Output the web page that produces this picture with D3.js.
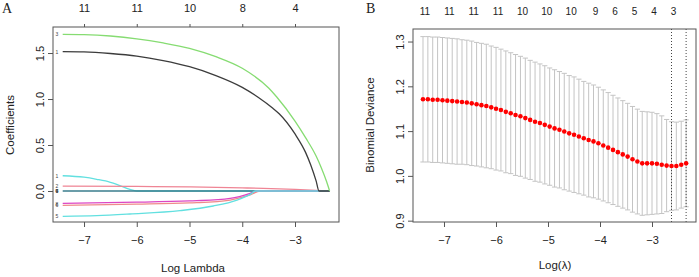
<!DOCTYPE html>
<html>
<head>
<meta charset="utf-8">
<script src="https://cdn.jsdelivr.net/npm/d3@7"></script>
<style>
  body { margin: 0; background: #fff; }
  text { font-family: "Liberation Sans", Arial, sans-serif; fill: #222; }
  .panel { font-family: "Liberation Serif", "Times New Roman", serif; font-size: 14px; }
</style>
</head>
<body>
<div id="chart"></div>
<script>
// ---- panel A: coefficient paths ----
var ticksA = [-7, -6, -5, -4, -3]
var dfTopA = ["11", "11", "10", "8", "4"]
var yTicksA = [0.0, 0.5, 1.0, 1.5]

var greenLam = [-7.404, -7.0, -6.5, -6.0, -5.5, -5.0, -4.5, -4.0, -3.5, -3.35, -3.0, -2.8, -2.6, -2.5, -2.4, -2.344]
var greenVal = [1.703, 1.700, 1.685, 1.655, 1.610, 1.551, 1.460, 1.334, 1.120, 1.025, 0.76, 0.58, 0.38, 0.25, 0.10, 0]
var blackLam = [-7.404, -7.0, -6.5, -6.0, -5.5, -5.0, -4.5, -4.0, -3.7, -3.42, -3.3, -3.0, -2.8, -2.7, -2.6, -2.545, -2.344]
var blackVal = [1.515, 1.512, 1.495, 1.467, 1.418, 1.351, 1.255, 1.127, 1.02, 0.90, 0.84, 0.62, 0.42, 0.28, 0.11, 0, 0]
var cyan1Lam = [-7.404, -7.0, -6.76, -6.5, -6.38, -6.13, -6.0, -2.344]
var cyan1Val = [0.166, 0.150, 0.127, 0.095, 0.073, 0.018, 0, 0]
var pinkLam = [-7.404, -6.0, -5.0, -4.0, -3.6, -3.0, -2.5, -2.344]
var pinkVal = [0.054, 0.050, 0.044, 0.034, 0.029, 0.017, 0.004, 0]
var zeroLam = [-7.404, -2.344]
var zeroVal = [0, 0]
var magLam = [-7.404, -6.0, -5.0, -4.86, -4.23, -3.85, -3.73, -2.344]
var magVal = [-0.134, -0.122, -0.108, -0.105, -0.080, -0.025, 0, 0]
var salmonLam = [-7.404, -6.0, -5.0, -4.86, -4.23, -3.85, -3.66, -2.344]
var salmonVal = [-0.156, -0.143, -0.130, -0.127, -0.098, -0.043, 0, 0]
var cyan5Lam = [-7.404, -6.76, -6.13, -5.18, -4.55, -4.1, -3.85, -3.75, -2.344]
var cyan5Val = [-0.275, -0.268, -0.250, -0.214, -0.163, -0.098, -0.036, 0, 0]

// variable numbers printed at the left end of the paths
var pathLabels = ["3", "1", "1", "2", "4", "6", "7", "9", "8", "6", "5"]
var pathLabelY = [1.703, 1.515, 0.166, 0.054, 0, 0, 0, 0, -0.138, -0.150, -0.275]

// ---- panel B: cross-validation curve ----
var logLam = [-7.404, -7.310, -7.217, -7.123, -7.029, -6.936, -6.842, -6.748, -6.654, -6.561,
  -6.467, -6.373, -6.280, -6.186, -6.092, -5.999, -5.905, -5.811, -5.717, -5.624,
  -5.530, -5.436, -5.343, -5.249, -5.155, -5.062, -4.968, -4.874, -4.780, -4.687,
  -4.593, -4.499, -4.406, -4.312, -4.218, -4.125, -4.031, -3.937, -3.843, -3.750,
  -3.656, -3.562, -3.469, -3.375, -3.281, -3.188, -3.094, -3.000, -2.906, -2.813,
  -2.719, -2.625, -2.532, -2.438, -2.344]
var cvMean = [1.171, 1.171, 1.170, 1.170, 1.169, 1.168, 1.167, 1.166, 1.165, 1.164,
  1.162, 1.160, 1.158, 1.156, 1.153, 1.150, 1.147, 1.143, 1.140, 1.136,
  1.133, 1.129, 1.125, 1.121, 1.118, 1.114, 1.110, 1.106, 1.103, 1.099,
  1.095, 1.092, 1.088, 1.084, 1.080, 1.077, 1.073, 1.068, 1.063, 1.058,
  1.053, 1.048, 1.043, 1.037, 1.032, 1.028, 1.028, 1.028, 1.027, 1.025,
  1.023, 1.022, 1.022, 1.025, 1.028]
var cvSd = [0.140, 0.140, 0.140, 0.140, 0.140, 0.140, 0.140, 0.140, 0.139, 0.139,
  0.139, 0.138, 0.138, 0.138, 0.137, 0.137, 0.136, 0.136, 0.135, 0.135,
  0.134, 0.134, 0.133, 0.133, 0.132, 0.132, 0.131, 0.131, 0.130, 0.130,
  0.129, 0.129, 0.128, 0.127, 0.127, 0.126, 0.125, 0.124, 0.123, 0.122,
  0.121, 0.120, 0.119, 0.118, 0.117, 0.116, 0.115, 0.114, 0.112, 0.109,
  0.103, 0.099, 0.098, 0.097, 0.097]
var ticksB = [-7, -6, -5, -4, -3]
var yTicksB = [0.9, 1.0, 1.1, 1.2, 1.3]
var dfTopIdx = [0, 5, 10, 15, 20, 25, 30, 35, 39, 43, 47, 51]
var dfTopB = ["11", "11", "11", "11", "10", "10", "10", "9", "6", "5", "4", "3"]
var lambdaMinIdx = 51
var lambda1seIdx = 54

var svg = d3.select("#chart").append("svg")
    .attr("width", 699).attr("height", 277)

svg.append("rect").attr("width", 699).attr("height", 277).attr("fill", "#fff")

// ================= Panel A =================
var xA = d3.scaleLinear().domain([-7.588, -2.166]).range([53, 339])
var yA = d3.scaleLinear().domain([-0.337, 1.783]).range([222, 27])

var gA = svg.append("g")

var lineA = d3.line()
    .x(function(d) { return xA(d[0]) })
    .y(function(d) { return yA(d[1]) })
    .curve(d3.curveMonotoneX)

var paths = [
    {lam: cyan1Lam, val: cyan1Val, col: "#62e0e0"},
    {lam: zeroLam, val: zeroVal, col: "#3a7d8c"},
    {lam: pinkLam, val: pinkVal, col: "#ef8595"},
    {lam: salmonLam, val: salmonVal, col: "#ef8a8a"},
    {lam: magLam, val: magVal, col: "#dc46c4"},
    {lam: cyan5Lam, val: cyan5Val, col: "#62e0e0"},
    {lam: blackLam, val: blackVal, col: "#3c3c3c"},
    {lam: greenLam, val: greenVal, col: "#86dc72"}
]
paths.forEach(function(p) {
    var pts = p.lam.map(function(l, i) { return [l, p.val[i]] })
    gA.append("path")
        .attr("d", lineA(pts))
        .attr("fill", "none")
        .attr("stroke", p.col)
        .attr("stroke-width", 1.3)
})

gA.selectAll(".plab").data(pathLabels).enter().append("text")
    .attr("x", 57)
    .attr("y", function(d, i) { return yA(pathLabelY[i]) + 2 })
    .attr("text-anchor", "middle")
    .style("font-size", "5px")
    .style("fill", "#444")
    .text(function(d) { return d })

// box
gA.append("rect").attr("x", 53).attr("y", 27).attr("width", 286).attr("height", 195)
    .attr("fill", "none").attr("stroke", "#555").attr("stroke-width", 1)

// bottom axis
gA.append("g").attr("transform", "translate(0,222)")
    .call(d3.axisBottom(xA).tickValues(ticksA).tickSize(5).tickPadding(9).tickFormat(d3.format("d")))
    .call(function(g) { g.select(".domain").remove() })
// top axis (df)
gA.append("g").attr("transform", "translate(0,27)")
    .call(d3.axisTop(xA).tickValues(ticksA).tickSize(3).tickPadding(12)
        .tickFormat(function(d, i) { return dfTopA[i] }))
    .call(function(g) { g.select(".domain").remove() })
// left axis
gA.append("g").attr("transform", "translate(53,0)")
    .call(d3.axisLeft(yA).tickValues(yTicksA).tickSize(5).tickPadding(8).tickFormat(d3.format(".1f")))
    .call(function(g) { g.select(".domain").remove() })
    .selectAll(".tick text")
    .attr("transform", function() { return "rotate(-90," + (-13) + ",0)" })
    .attr("x", -13).attr("dy", 0).attr("y", 4)
    .attr("text-anchor", "middle")

gA.append("text").attr("x", 193).attr("y", 272).attr("text-anchor", "middle")
    .style("font-size", "11.5px").text("Log Lambda")
gA.append("text").attr("transform", "translate(14,125) rotate(-90)")
    .attr("text-anchor", "middle").style("font-size", "11.5px").text("Coefficients")
gA.append("text").attr("class", "panel").attr("x", 2).attr("y", 13).text("A")

// ================= Panel B =================
var xB = d3.scaleLinear().domain([-7.596, -2.154]).range([413, 696])
var yB = d3.scaleLinear().domain([0.897, 1.328]).range([222, 29])

var gB = svg.append("g")

// error bars
var bars = gB.append("g").attr("stroke", "#c4c4c4").attr("stroke-width", 1)
logLam.forEach(function(l, i) {
    var x = xB(l), hi = yB(cvMean[i] + cvSd[i]), lo = yB(cvMean[i] - cvSd[i])
    bars.append("line").attr("x1", x).attr("x2", x).attr("y1", hi).attr("y2", lo)
    bars.append("line").attr("x1", x - 2.6).attr("x2", x + 2.6).attr("y1", hi).attr("y2", hi)
    bars.append("line").attr("x1", x - 2.6).attr("x2", x + 2.6).attr("y1", lo).attr("y2", lo)
})

// dotted lines at lambda.min and lambda.1se
;[lambdaMinIdx, lambda1seIdx].forEach(function(k) {
    gB.append("line")
        .attr("x1", xB(logLam[k])).attr("x2", xB(logLam[k]))
        .attr("y1", 29).attr("y2", 222)
        .attr("stroke", "#444").attr("stroke-width", 1).attr("stroke-dasharray", "1,2")
})

gB.selectAll(".dot").data(cvMean).enter().append("circle")
    .attr("cx", function(d, i) { return xB(logLam[i]) })
    .attr("cy", function(d) { return yB(d) })
    .attr("r", 2.3)
    .attr("fill", "#f00")

gB.append("rect").attr("x", 413).attr("y", 29).attr("width", 283).attr("height", 193)
    .attr("fill", "none").attr("stroke", "#555").attr("stroke-width", 1)

gB.append("g").attr("transform", "translate(0,222)")
    .call(d3.axisBottom(xB).tickValues(ticksB).tickSize(5).tickPadding(9).tickFormat(d3.format("d")))
    .call(function(g) { g.select(".domain").remove() })

gB.append("g").attr("transform", "translate(413,0)")
    .call(d3.axisLeft(yB).tickValues(yTicksB).tickSize(5).tickPadding(8).tickFormat(d3.format(".1f")))
    .call(function(g) { g.select(".domain").remove() })
    .selectAll(".tick text")
    .attr("transform", function() { return "rotate(-90," + (-13) + ",0)" })
    .attr("x", -13).attr("dy", 0).attr("y", 4)
    .attr("text-anchor", "middle")

gB.selectAll(".dfb").data(dfTopB).enter().append("text")
    .attr("x", function(d, i) { return xB(logLam[dfTopIdx[i]]) + 2 })
    .attr("y", 15)
    .attr("text-anchor", "middle")
    .style("font-size", "10px")
    .text(function(d) { return d })

gB.append("text").attr("x", 555).attr("y", 269).attr("text-anchor", "middle")
    .style("font-size", "11.5px").text("Log(λ)")
gB.append("text").attr("transform", "translate(374,125) rotate(-90)")
    .attr("text-anchor", "middle").style("font-size", "11.5px").text("Binomial Deviance")
gB.append("text").attr("class", "panel").attr("x", 366).attr("y", 13).text("B")

svg.selectAll(".tick text").style("font-size", "11px")
svg.selectAll(".tick line").attr("stroke", "#555")
</script>
</body>
</html>
